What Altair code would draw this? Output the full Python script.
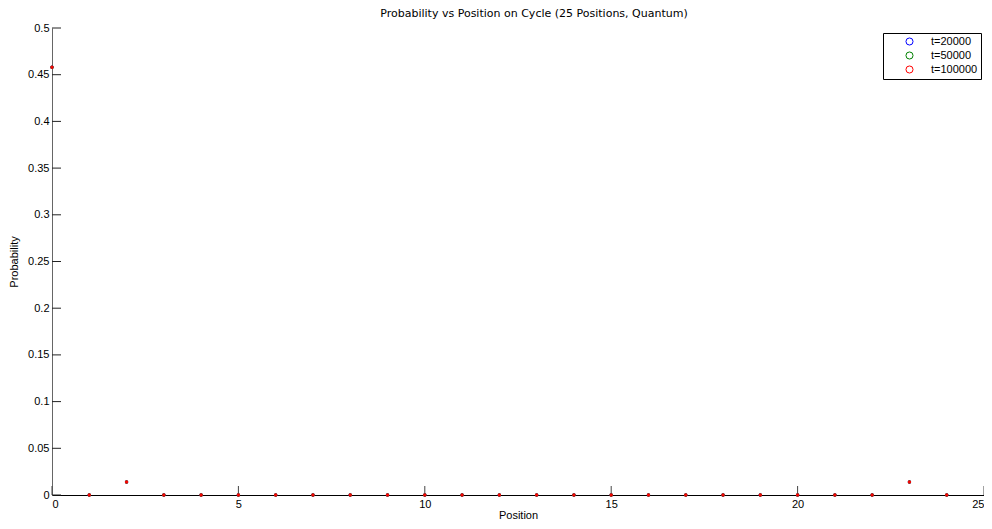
import altair as alt
import pandas as pd

positions = list(range(25))
p_20000 = [0.458, 0.0, 0.0139, 0.0, 0.0, 0.0, 0.0, 0.0, 0.0, 0.0, 0.0, 0.0, 0.0,
           0.0, 0.0, 0.0, 0.0, 0.0, 0.0, 0.0, 0.0, 0.0, 0.0, 0.0139, 0.0]
p_50000 = [0.458, 0.0, 0.0139, 0.0, 0.0, 0.0, 0.0, 0.0, 0.0, 0.0, 0.0, 0.0, 0.0,
           0.0, 0.0, 0.0, 0.0, 0.0, 0.0, 0.0, 0.0, 0.0, 0.0, 0.0139, 0.0]
p_100000 = [0.458, 0.0, 0.0139, 0.0, 0.0, 0.0, 0.0, 0.0, 0.0, 0.0, 0.0, 0.0, 0.0,
            0.0, 0.0, 0.0, 0.0, 0.0, 0.0, 0.0, 0.0, 0.0, 0.0, 0.0139, 0.0]
series_names = ["t=20000", "t=50000", "t=100000"]
series_colors = ["#0000ff", "#008000", "#ff0000"]
title_text = ["Probability vs Position on Cycle (25 Positions, Quantum)"]

x_ticks = [0, 5, 10, 15, 20, 25]
y_ticks = [0, 0.05, 0.1, 0.15, 0.2, 0.25, 0.3, 0.35, 0.4, 0.45, 0.5]

rows = []
for name, vals in zip(series_names, [p_20000, p_50000, p_100000]):
    for p, v in zip(positions, vals):
        rows.append({"Position": p, "Probability": v, "series": name})
df = pd.DataFrame(rows)

W, H = 932, 467
FONT = "Liberation Sans"

xscale = alt.Scale(domain=[0, 25], nice=False, zero=False)
yscale = alt.Scale(domain=[0, 0.5], nice=False)

points = alt.Chart(df).mark_point(size=2, strokeWidth=2.0, filled=False, opacity=1).encode(
    x=alt.X("Position:Q", scale=xscale,
            axis=alt.Axis(values=x_ticks, title="Position", ticks=False, grid=False,
                          labelPadding=3, titlePadding=0, domainColor="#000000", format="d")),
    y=alt.Y("Probability:Q", scale=yscale,
            axis=alt.Axis(values=y_ticks, title="Probability", ticks=False, grid=False,
                          labelPadding=3, titlePadding=8, domainColor="#666666", format=".2~f")),
    color=alt.Color("series:N",
                    scale=alt.Scale(domain=series_names, range=series_colors),
                    sort=series_names,
                    legend=alt.Legend(title=None, orient="none", legendX=831, legendY=5,
                                      strokeColor="#000000", fillColor="#ffffff",
                                      padding=3, symbolOffset=18, labelOffset=16,
                                      symbolType="circle", symbolSize=50, symbolStrokeWidth=1,
                                      symbolFillColor="transparent",
                                      rowPadding=1, labelFontSize=11, labelFont=FONT,
                                      labelColor="#000000")),
    order=alt.Order("series_order:Q"),
).transform_calculate(
    series_order="datum.series == 't=20000' ? 0 : (datum.series == 't=50000' ? 1 : 2)"
)

xt = pd.DataFrame({"v": x_ticks})
yt = pd.DataFrame({"v": y_ticks})

xtick_rules = alt.Chart(xt).mark_rule(color="#444444", strokeWidth=1).encode(
    x=alt.X("v:Q", scale=xscale), y=alt.value(H - 9), y2=alt.value(H))
ytick_rules = alt.Chart(yt).mark_rule(color="#222222", strokeWidth=1).encode(
    y=alt.Y("v:Q", scale=yscale), x=alt.value(0), x2=alt.value(9))

title_mark = alt.Chart(pd.DataFrame({"t": title_text})).mark_text(
    font="DejaVu Sans", fontSize=11, color="#000000", align="center", baseline="alphabetic"
).encode(text="t:N", x=alt.value(482), y=alt.value(-11))

chart = alt.layer(xtick_rules, ytick_rules, points, title_mark).properties(
    width=W, height=H,
    autosize=alt.AutoSizeParams(type="none"),
    padding={"left": 44, "top": 20, "right": 0, "bottom": 26},
).configure_view(stroke=None).configure_axis(
    labelFont=FONT, titleFont=FONT, labelFontSize=11, titleFontSize=11,
    titleFontWeight="normal", labelColor="#000000", titleColor="#000000",
)

chart.save("out.html", embed_options={"renderer": "svg", "actions": False})
